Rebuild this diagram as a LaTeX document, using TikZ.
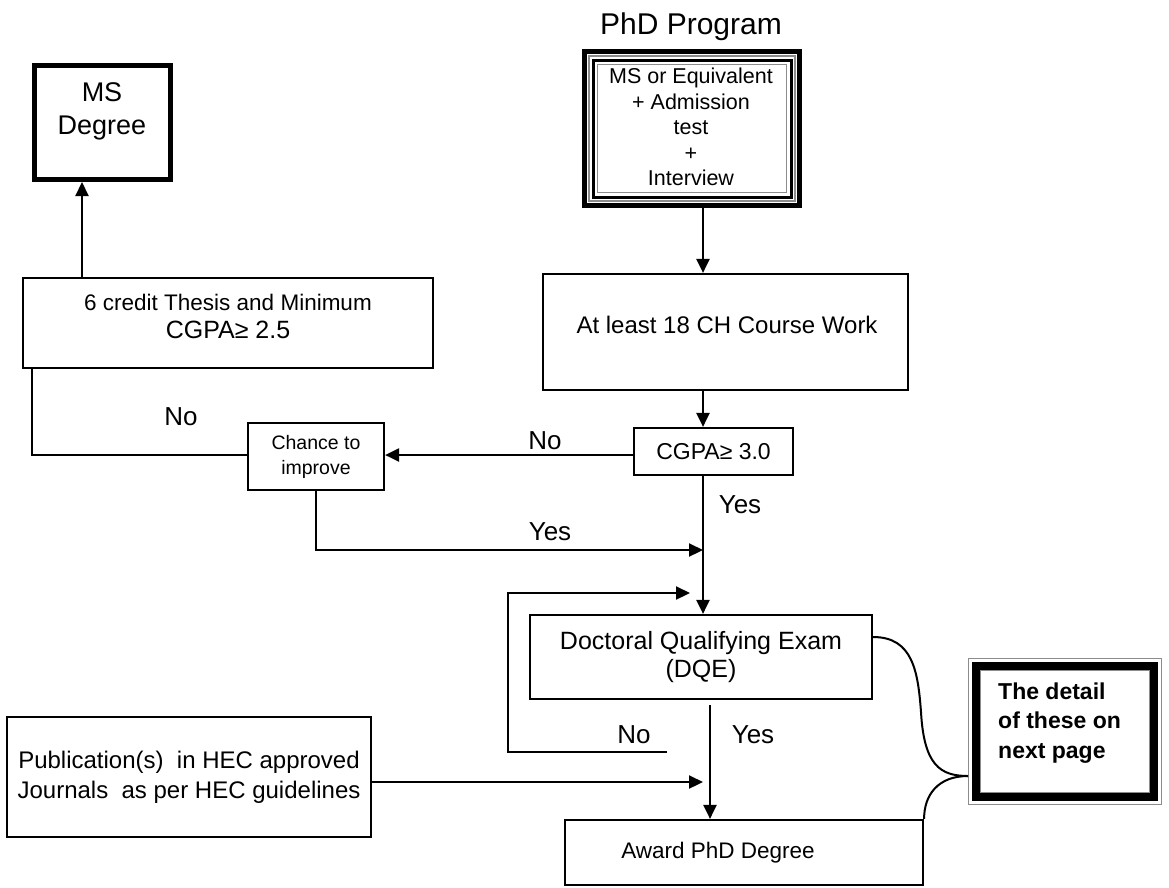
\documentclass[tikz,border=0pt]{standalone}
\usepackage{fontspec}
\setmainfont{Liberation Sans}
\usetikzlibrary{arrows.meta,calc}
\newcommand{\fsz}[2]{\fontsize{#1}{#2}\selectfont}
\tikzset{
  box/.style={draw, line width=2.2pt, inner sep=0pt, align=center, rectangle},
  txt/.style={inner sep=0pt, align=center},
  arr/.style={line width=2.2pt, -{Triangle[length=14pt,width=13pt]}},
  ln/.style={line width=2.2pt},
  lbl/.style={inner sep=0pt, font=\fsz{26}{30}},
}
\begin{document}
\begin{tikzpicture}[x=1pt,y=-1pt]
\useasboundingbox (0,0) rectangle (1169,887);
\fill[white] (0,0) rectangle (1169,887);

% title
\node (title) [txt, font=\fsz{30}{34}] at (691,27) {PhD Program};

% top entry box with layered frame
\node (top) [minimum width=220pt, minimum height=159pt, inner sep=0pt, outer sep=0pt] at (692,128.5) {};
\draw[line width=5pt] ([shift={(2.5pt,-2.5pt)}]top.north west) rectangle ([shift={(-2.5pt,2.5pt)}]top.south east);
\draw[black!45, line width=1.2pt] ([shift={(7pt,-7pt)}]top.north west) rectangle ([shift={(-7pt,7pt)}]top.south east);
\draw[line width=3pt] ([shift={(11pt,-11pt)}]top.north west) rectangle ([shift={(-11pt,11pt)}]top.south east);
\draw[black!45, line width=1.2pt] ([shift={(15.5pt,-15.5pt)}]top.north west) rectangle ([shift={(-15.5pt,15.5pt)}]top.south east);
\node (topT) [txt, font=\fsz{21.5}{25.5}] at (691,127) {MS or Equivalent\\+ Admission\\test\\+\\Interview};

% course work
\node (course) [box, minimum width=365pt, minimum height=116pt] at (725.5,332) {};
\node (courseT) [txt, font=\fsz{24}{29}] at (727,325) {At least 18 CH Course Work};

% CGPA >= 3.0
\node (cg3) [box, minimum width=159pt, minimum height=47pt, font=\fsz{23}{28}] at (713.5,451.5) {CGPA≥ 3.0};

% chance to improve
\node (chance) [box, minimum width=136pt, minimum height=67pt, font=\fsz{19.5}{25}] at (316,456.5) {Chance to\\improve};

% thesis
\node (thesis) [box, minimum width=410pt, minimum height=90pt] at (228,323) {};
\node (thesisT) [txt, font=\fsz{22.5}{28}] at (228,316) {6 credit Thesis and Minimum\\{\fsz{25}{28}CGPA≥ 2.5}};

% MS degree
\node (ms) [draw, line width=5pt, minimum width=136pt, minimum height=114pt, inner sep=0pt] at (102.5,122.5) {};
\node (msT) [txt, font=\fsz{27}{33}] at (102,111) {MS\\Degree};

% DQE
\node (dqe) [box, minimum width=342pt, minimum height=84pt, font=\fsz{25}{28}] at (701,657) {Doctoral Qualifying Exam\\(DQE)};

% award
\node (award) [box, minimum width=358pt, minimum height=65pt] at (744,852.5) {};
\node (awardT) [txt, font=\fsz{22.5}{27}] at (718,853) {Award PhD Degree};

% publications
\node (pub) [box, minimum width=364pt, minimum height=120pt, font=\fsz{24}{30}] at (189,777) {Publication(s)\ \ in HEC approved\\Journals\ \ as per HEC guidelines};

% detail box
\node (detail) [minimum width=194pt, minimum height=147pt, inner sep=0pt, outer sep=0pt] at (1065,731.5) {};
\draw[black!45, line width=1.2pt] ([shift={(0.6pt,-0.6pt)}]detail.north west) rectangle ([shift={(-0.6pt,0.6pt)}]detail.south east);
\draw[line width=8pt] ([shift={(8pt,-8pt)}]detail.north west) rectangle ([shift={(-8pt,8pt)}]detail.south east);
\draw[black!45, line width=1pt] ([shift={(12.5pt,-12.5pt)}]detail.north west) rectangle ([shift={(-12.5pt,12.5pt)}]detail.south east);
\node (detailT) [inner sep=0pt, anchor=west, align=left, font=\bfseries\fsz{23}{29.5}] at (998,723) {The detail\\of these on\\next page};

% helper coordinates
\coordinate (sp) at (703,0);
\coordinate (lx) at (32,0);
\coordinate (mx) at (82,0);
\coordinate (dx) at (710,0);
\coordinate (ny) at (0,455);
\coordinate (y1) at (703,550);
\coordinate (lp1) at (667,752);
\coordinate (lp2) at (508,593);
\coordinate (lp3) at (690,593);
\coordinate (pa) at (703,782);
\coordinate (tip) at ([yshift=-44.5pt]detail.west);

% connectors
\draw[arr] (top.south -| sp) -- (course.north -| sp);
\draw[arr] (course.south -| sp) -- (cg3.north -| sp);
\draw[arr] (cg3.west |- ny) -- (chance.east |- ny);
\draw[ln] (chance.west |- ny) -| (thesis.south -| lx);
\draw[arr] (thesis.north -| mx) -- (ms.south -| mx);
\draw[arr] (cg3.south -| sp) -- (dqe.north -| sp);
\draw[arr] (chance.south) |- (y1);
\draw[arr] (lp1) -| (lp2) -- (lp3);
\draw[arr] ([yshift=-5pt]dqe.south -| dx) -- (award.north -| dx);
\draw[arr] (pub.east |- pa) -- (pa);

% brace
\draw[line width=2pt] ([yshift=20pt]dqe.east) .. controls (913,637) and (918,672) .. (921,712) .. controls (924,765) and (940,776) .. (tip);
\draw[line width=2pt] (award.north east) .. controls (924,795) and (938,776) .. (tip);

% labels
\node (no1) [lbl] at (545,441) {No};
\node (no2) [lbl] at (181,417) {No};
\node (yes1) [lbl] at (740,505) {Yes};
\node (yes2) [lbl] at (550,532) {Yes};
\node (no3) [lbl] at (634,735) {No};
\node (yes3) [lbl] at (753,735) {Yes};
\end{tikzpicture}
\end{document}
